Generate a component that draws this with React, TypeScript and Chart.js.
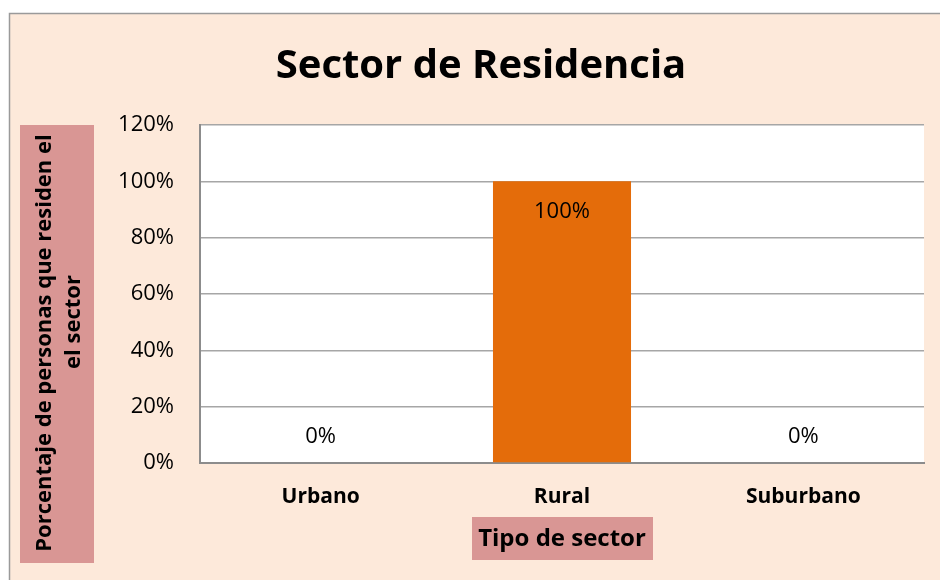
import React, { useEffect, useRef } from "react";
import { Chart, registerables } from "chart.js";

Chart.register(...registerables);

const title = "Sector de Residencia";
const categories = ["Urbano", "Rural", "Suburbano"];
const values = [0, 100, 0];
const yMin = 0;
const yMax = 120;
const yStep = 20;
const xTitle = "Tipo de sector";
const yTitleLines = ["Porcentaje de personas que residen el", "el sector"];

const FONT = "'Open Sans', 'DejaVu Sans', sans-serif";
const PEACH = "#FDE9DA";
const PINK = "#D99694";
const ORANGE = "#E46C0A";

const decorPlugin = {
  id: "decor",
  beforeDraw(chart: any) {
    const { ctx, width, height, chartArea } = chart;
    ctx.save();
    ctx.fillStyle = "#ffffff";
    ctx.fillRect(0, 0, width, height);
    ctx.fillStyle = PEACH;
    ctx.fillRect(9, 13, width - 9, height - 13);
    ctx.strokeStyle = "#9a9a9a";
    ctx.lineWidth = 1.5;
    ctx.beginPath();
    ctx.moveTo(9.5, height);
    ctx.lineTo(9.5, 13.5);
    ctx.lineTo(width, 13.5);
    ctx.stroke();
    // plot area
    ctx.fillStyle = "#ffffff";
    ctx.fillRect(chartArea.left, chartArea.top, chartArea.right - chartArea.left, chartArea.bottom - chartArea.top);
    // title
    ctx.fillStyle = "#000";
    ctx.font = `bold 40px ${FONT}`;
    ctx.textAlign = "center";
    ctx.textBaseline = "alphabetic";
    ctx.fillText(title, 481, 78);
    // y title box
    ctx.fillStyle = PINK;
    ctx.fillRect(20, 125, 74, 438);
    ctx.fillStyle = "#000";
    ctx.font = `bold 22px ${FONT}`;
    ctx.textBaseline = "middle";
    ctx.save();
    ctx.translate(45, 343);
    ctx.rotate(-Math.PI / 2);
    ctx.fillText(yTitleLines[0], 0, 0);
    ctx.restore();
    ctx.save();
    ctx.translate(74, 322);
    ctx.rotate(-Math.PI / 2);
    ctx.fillText(yTitleLines[1], 0, 0);
    ctx.restore();
    // x title box
    ctx.fillStyle = PINK;
    ctx.fillRect(472, 517, 181, 43);
    ctx.fillStyle = "#000";
    ctx.font = `bold 24px ${FONT}`;
    ctx.fillText(xTitle, 562, 539);
    ctx.restore();
  },
  afterDatasetsDraw(chart: any) {
    const { ctx } = chart;
    const meta = chart.getDatasetMeta(0);
    ctx.save();
    ctx.fillStyle = "#000";
    ctx.font = `22px ${FONT}`;
    ctx.textAlign = "center";
    ctx.textBaseline = "middle";
    meta.data.forEach((bar: any, i: number) => {
      const v = values[i];
      const y = v > 0 ? bar.y + 30 : bar.base - 26;
      ctx.fillText(`${v}%`, bar.x, y);
    });
    ctx.restore();
  },
};

export default function App() {
  const ref = useRef<HTMLCanvasElement>(null);
  useEffect(() => {
    if (!ref.current) return;
    const chart = new Chart(ref.current, {
      type: "bar",
      data: {
        labels: categories,
        datasets: [
          {
            data: values,
            backgroundColor: ORANGE,
            barPercentage: 0.572,
            categoryPercentage: 1,
          },
        ],
      },
      options: {
        responsive: false,
        animation: false,
        layout: { padding: { left: 10, top: 125, right: 16, bottom: 0 } },
        plugins: { legend: { display: false }, title: { display: false }, tooltip: { enabled: false } },
        scales: {
          y: {
            min: yMin,
            max: yMax,
            ticks: {
              stepSize: yStep,
              callback: (v: any) => `${v}%`,
              font: { family: FONT, size: 22 },
              color: "#000",
              padding: 26,
            },
            grid: { color: "#a6a6a6", lineWidth: 1.5, drawTicks: false },
            border: { color: "#8c8c8c", width: 2 },
            afterFit: (s: any) => {
              s.width = 190;
            },
          },
          x: {
            ticks: {
              font: { family: FONT, size: 21, weight: "bold" },
              color: "#000",
              padding: 21,
            },
            grid: { display: false, drawTicks: false },
            border: { color: "#8c8c8c", width: 2 },
            afterFit: (s: any) => {
              s.height = 117;
            },
          },
        },
      },
      plugins: [decorPlugin],
    });
    return () => chart.destroy();
  }, []);
  return (
    <div style={{ position: "fixed", left: 0, top: 0, width: 940, height: 580 }}>
      <canvas ref={ref} width={940} height={580} style={{ display: "block" }} />
    </div>
  );
}
